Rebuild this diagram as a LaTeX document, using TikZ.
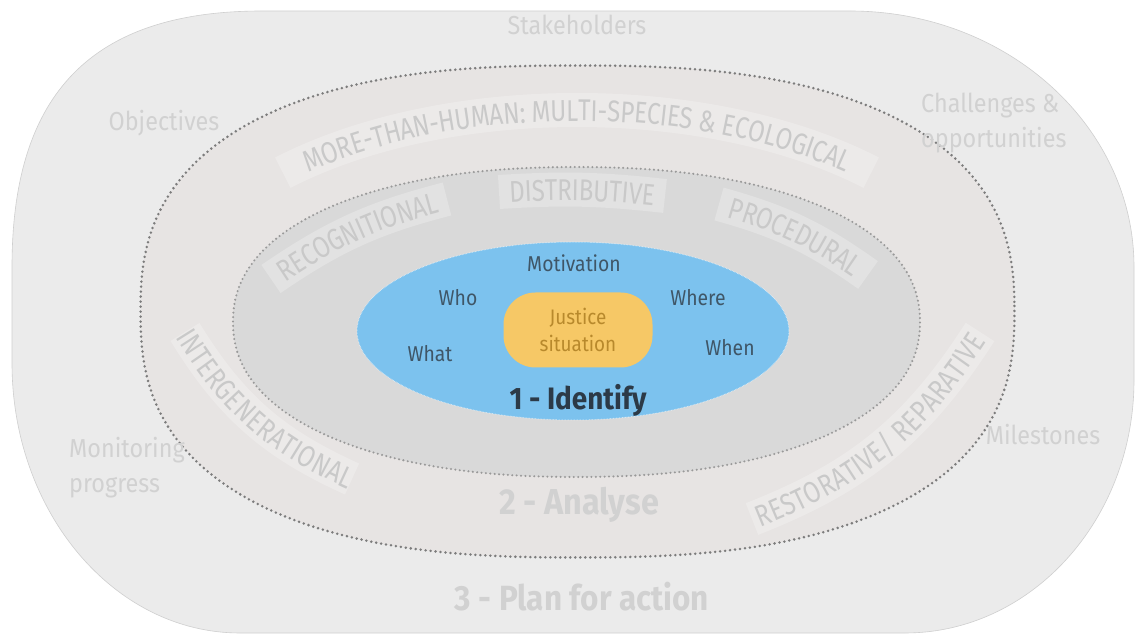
\documentclass[tikz,border=0pt]{standalone}
\usepackage{fontspec}
\setmainfont[FakeStretch=0.9]{Fira Sans}
\newfontfamily\arcfont[FakeStretch=0.8]{Fira Sans}
\usepackage{tikz}
\usetikzlibrary{decorations.text, positioning}

\definecolor{outerfill}{HTML}{EBEBEB}
\definecolor{outerline}{HTML}{CFCFCF}
\definecolor{bandfill}{HTML}{E7E4E3}
\definecolor{corefill}{HTML}{D9D9D9}
\definecolor{dotgrey}{HTML}{7C7C7C}
\definecolor{dotlight}{HTML}{999999}
\definecolor{skyfill}{HTML}{7CC2EE}
\definecolor{sunfill}{HTML}{F6C866}
\definecolor{sunink}{HTML}{B8892C}
\definecolor{skyink}{HTML}{3F5667}
\definecolor{darkink}{HTML}{2C3A47}
\definecolor{paleink}{HTML}{D1D1D1}
\definecolor{arcink}{HTML}{C9C9C9}

\begin{document}
\begin{tikzpicture}[x=1pt, y=1pt,
  word/.style={font=\fontsize{21.5}{27}\selectfont, text=skyink, inner sep=0pt},
  faint/.style={font=\fontsize{26}{35}\selectfont, text=paleink, inner sep=0pt, align=left},
  stage/.style={font=\bfseries\fontsize{36}{40}\selectfont, text=paleink, inner sep=0pt},
  tab/.style={draw=white, draw opacity=.24, line width=34pt},
  arclabel/.style={decorate, decoration={text along path,
      text={|\arcfont\fontsize{30}{32}\selectfont|#1}, text color=arcink,
      text align=center, raise=-11pt}},
  ringdots/.style={line width=2.8pt, line cap=round, dash pattern=on 0pt off 5pt},
]
\useasboundingbox (0,0) rectangle (1136,635);
\fill[white] (0,0) rectangle (1136,635);

  % Ring: plan for action
  \draw[fill=outerfill, draw=outerline, line width=.6pt]
    (262,624) .. controls (92,624) and (12,542) .. (12,368)
    -- (12,272) .. controls (12,123) and (114,2) .. (240,2)
    -- (905,2) .. controls (1031,2) and (1134,115) .. (1134,255)
    -- (1134,368) .. controls (1134,509) and (1007,624) .. (850,624)
    -- cycle;

  % Ring: analyse
  \draw[fill=bandfill, draw=dotgrey, ringdots] plot[domain=1:359, samples=180]
    ({577.5+437*cos(\x)*abs(cos(\x))^(-0.2)}, {323.5+246*sin(\x)*abs(sin(\x))^(-0.2)}) -- cycle;

  % Labels of the analyse ring
  \path[tab] ([shift={(577,311)}]135:416 and 214) arc[start angle=135, end angle=45, x radius=416, y radius=214];
  \path[arclabel={MORE-THAN-HUMAN: MULTI-SPECIES {\&} ECOLOGICAL}]
    ([shift={(577,311)}]135:416 and 214) arc[start angle=135, end angle=45, x radius=416, y radius=214];
  \coordinate (gen-a) at (185,303);
  \coordinate (gen-b) at (352,156);
  \path[tab] (gen-a) to[bend right=17] (gen-b);
  \path[arclabel=INTERGENERATIONAL] (gen-a) to[bend right=17] (gen-b);
  \coordinate (rep-a) at (752,116);
  \coordinate (rep-b) at (980,303);
  \path[tab] (rep-a) to[bend right=18] (rep-b);
  \path[arclabel={RESTORATIVE/ REPARATIVE}] (rep-a) to[bend right=18] (rep-b);

  % Ring: justice dimensions
  \draw[fill=corefill, draw=dotlight, ringdots, line width=2.3pt, dash pattern=on 0pt off 4.4pt]
    plot[domain=1:359, samples=180]
    ({576.5+343.5*cos(\x)*abs(cos(\x))^(-0.09)}, {313+155*sin(\x)*abs(sin(\x))^(-0.09)}) -- cycle;

  % Labels of the dimensions ring
  \coordinate (rec-a) at (271,356);
  \coordinate (rec-b) at (447,436);
  \path[tab] (rec-a) to[bend left=10] (rec-b);
  \path[arclabel=RECOGNITIONAL] (rec-a) to[bend left=10] (rec-b);
  \coordinate (dis-a) at (499,443);
  \coordinate (dis-b) at (665,439);
  \path[tab] (dis-a) to[bend left=5] (dis-b);
  \path[arclabel=DISTRIBUTIVE] (dis-a) to[bend left=5] (dis-b);
  \coordinate (pro-a) at (719,431);
  \coordinate (pro-b) at (868,360);
  \path[tab] (pro-a) to[bend left=10] (pro-b);
  \path[arclabel=PROCEDURAL] (pro-a) to[bend left=10] (pro-b);

  % Core: identify
  \fill[skyfill] (573,304) ellipse [x radius=216, y radius=89];
  \draw[white, draw opacity=.55, line width=1pt, dash pattern=on .6pt off .9pt]
    (573,304) ellipse [x radius=216, y radius=89];
  \node[fill=sunfill, rounded corners=32pt, minimum width=149pt, minimum height=75pt,
    align=center, text=sunink, inner sep=0pt, font=\fontsize{21}{27}\selectfont]
    (justice) at (578,305) {Justice\\situation};

  % Node: questions
  \node[word] (motivation) at (574,372) {Motivation};
  \node[word] (who) at (458,337) {Who};
  \node[word] (where) at (698,337) {Where};
  \node[word] (what) at (430,281) {What};
  \node[word] (when) at (730,287) {When};
  \node[stage, text=darkink, font=\bfseries\fontsize{31}{34}\selectfont] (identify) at (578,235) {1 - Identify};

  % Node: stages
  \node[stage] (analyse) at (579,130) {2 - Analyse};
  \node[stage, font=\bfseries\fontsize{35}{40}\selectfont] (plan) at (582,38) {3 - Plan for action};

  % Node: planning items
  \node[faint] (stakeholders) at (577,610) {Stakeholders};
  \node[faint] (objectives) at (164,512) {Objectives};
  \node[faint, anchor=west] (challenges) at (921,512) {Challenges \&\\opportunities};
  \node[faint, anchor=west] (monitoring) at (69,167) {Monitoring\\progress};
  \node[faint] (milestones) at (1043,200) {Milestones};
\end{tikzpicture}
\end{document}
